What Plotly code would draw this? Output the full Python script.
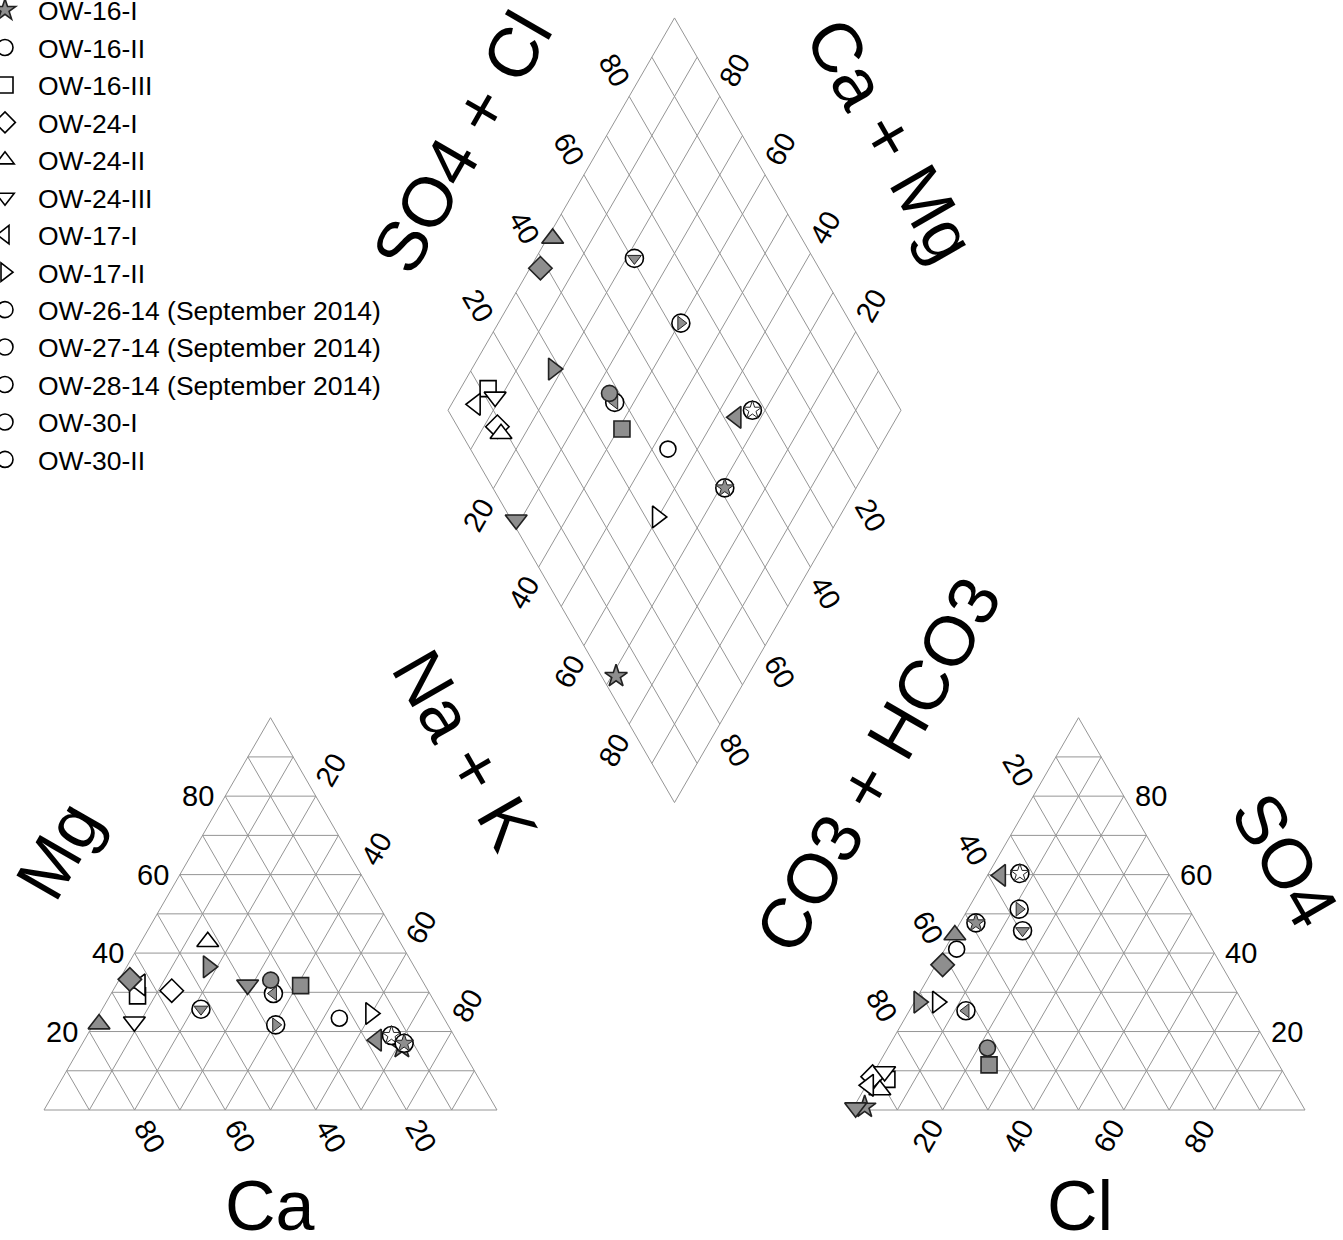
import math
import plotly.graph_objects as go

# ---------------- data (percent of meq) ----------------
SAMPLES = [
    "OW-16-I", "OW-16-II", "OW-16-III", "OW-24-I", "OW-24-II", "OW-24-III",
    "OW-17-I", "OW-17-II",
    "OW-26-14 (September 2014)", "OW-27-14 (September 2014)", "OW-28-14 (September 2014)",
    "OW-30-I", "OW-30-II",
    "gray triangle-up", "gray diamond", "gray triangle-right", "gray circle",
    "gray square", "gray triangle-left", "gray triangle-down",
]
CA = [13.0, 23.1, 64.8, 56.6, 42.4, 68.8, 62.8, 15.6, 38.0, 52.5, 34.5, 13.8, 12.0,
      76.9, 64.4, 45.5, 33.4, 27.5, 17.7, 39.1]
MG = [16.0, 23.4, 29.1, 30.4, 42.9, 22.5, 31.9, 24.6, 21.7, 25.7, 29.7, 19.0, 17.0,
      21.9, 33.3, 36.5, 33.1, 31.7, 17.8, 31.9]
NA_K = [71.0, 53.5, 6.1, 13.0, 14.7, 8.7, 5.3, 59.8, 40.3, 21.8, 35.8, 67.2, 71.0,
        1.2, 2.3, 18.0, 33.5, 40.8, 64.5, 29.0]
CL = [2.4, 2.6, 3.8, 0.3, 3.6, 2.3, 0.5, 5.1, 11.3, 14.8, 12.5, 6.9, 3.5,
      0.4, 1.5, 1.0, 22.0, 24.5, 2.9, 0.5]
SO4 = [0.8, 41.0, 7.8, 8.5, 5.1, 9.8, 6.3, 27.5, 51.2, 45.7, 25.3, 60.3, 47.7,
       44.6, 37.0, 27.5, 15.8, 11.5, 59.8, 0.6]
CO3_HCO3 = [96.8, 56.4, 88.4, 91.2, 91.3, 87.9, 93.2, 67.4, 37.5, 39.5, 62.2, 32.8, 48.8,
            55.0, 61.5, 71.5, 62.2, 64.0, 37.3, 98.9]
IN_LEGEND = [True] * 13 + [False] * 7

TICKS = [20, 40, 60, 80]
GRID_STEPS = list(range(0, 101, 10))

# ---------------- styles ----------------
GRAY = "#8e8e8e"
SYMBOL = ["star", "circle", "square", "diamond", "triangle-up", "triangle-down",
          "triangle-left", "triangle-right", "circle", "circle", "circle", "circle", "circle",
          "triangle-up", "diamond", "triangle-right", "circle", "square", "triangle-left",
          "triangle-down"]
FILL = [GRAY] + ["white"] * 12 + [GRAY] * 7
INNER = {8: ("triangle-right", GRAY), 9: ("triangle-down", GRAY), 10: ("triangle-left", GRAY),
         11: ("star", "white"), 12: ("star", GRAY)}
SIZE = {"star": 17, "circle": 16, "square": 16, "diamond": 18, "triangle-up": 19,
        "triangle-down": 19, "triangle-left": 19, "triangle-right": 19}

# ---------------- geometry ----------------
W, HGT = 1343, 1240
PX = 4.53                 # pixels per percent of triangle side
OX, OY = 44, 1110         # pixel position of the cation triangle's left corner
H = math.sqrt(3) / 2
GAP = 78.37
AN_OFF = 100 + GAP
BX, BY = 100 + GAP / 2, GAP * H


def cation_xy(mg, nak):
    return nak + mg / 2, mg * H


def anion_xy(so4, cl):
    return AN_OFF + cl + so4 / 2, so4 * H


def diamond_xy(cm, sc):
    return BX + (sc - cm) / 2, BY + (cm + sc) * H


fig = go.Figure()

# grid
gx, gy = [], []


def seg(p, q):
    gx.extend([p[0], q[0], None])
    gy.extend([p[1], q[1], None])


for ox in (0, AN_OFF):
    for k in GRID_STEPS[:-1]:
        seg((ox + k / 2, k * H), (ox + 100 - k / 2, k * H))
        seg((ox + k, 0), (ox + k + (100 - k) / 2, (100 - k) * H))
        seg((ox + 100 - k, 0), (ox + (100 - k) / 2, (100 - k) * H))
for k in GRID_STEPS:
    seg(diamond_xy(k, 0), diamond_xy(k, 100))
    seg(diamond_xy(0, k), diamond_xy(100, k))

fig.add_trace(go.Scatter(x=gx, y=gy, mode="lines", line=dict(color="#959595", width=1),
                         hoverinfo="skip", showlegend=False))

# samples
for i in range(len(SAMPLES)):
    pts = [cation_xy(MG[i], NA_K[i]), anion_xy(SO4[i], CL[i]),
           diamond_xy(CA[i] + MG[i], SO4[i] + CL[i])]
    xs = [p[0] for p in pts]
    ys = [p[1] for p in pts]
    sym = SYMBOL[i]
    size = 18 if i in INNER else SIZE[sym]
    lc = "black" if FILL[i] == "white" else "#222222"
    fig.add_trace(go.Scatter(x=xs, y=ys, mode="markers", name=SAMPLES[i], legendgroup=SAMPLES[i],
                             showlegend=IN_LEGEND[i],
                             marker=dict(symbol=sym, size=size, color=FILL[i],
                                         line=dict(color=lc, width=1.6))))
    if i in INNER:
        isym, ifill = INNER[i]
        isize = 14 if isym == "star" else 12
        fig.add_trace(go.Scatter(x=xs, y=ys, mode="markers", name=SAMPLES[i],
                                 legendgroup=SAMPLES[i], showlegend=False,
                                 marker=dict(symbol=isym, size=isize, color=ifill,
                                             line=dict(color="#222222", width=1))))

# ---------------- tick labels ----------------
D = 30 / PX
G = 2.0
TF = dict(family="Liberation Sans, Arial, sans-serif", size=29, color="black")
ann = []


def lab(x, y, text, angle=0, xa="center"):
    ann.append(dict(x=x, y=y, text=text, showarrow=False, textangle=angle,
                    xanchor=xa, yanchor="middle", font=TF))


for t in TICKS:
    s = str(t)
    # cation triangle
    lab(t / 2 - G, t * H, s, 0, "right")                                        # Mg
    lab(100 - t + 0.5 * D, -H * D, s, 60)                                      # Ca
    lab(t + (100 - t) / 2 + 0.5 * D, (100 - t) * H + H * D, s, -60)            # Na + K
    # anion triangle
    lab(AN_OFF + 100 - t / 2 + G, t * H, s, 0, "left")                          # SO4
    lab(AN_OFF + t - 0.5 * D, -H * D, s, -60)                                  # Cl
    lab(AN_OFF + (100 - t) / 2 - 0.5 * D, (100 - t) * H + H * D, s, 60)        # CO3 + HCO3
    # diamond
    x, y = diamond_xy(100, t)
    lab(x - 0.5 * D, y + H * D, s, 60)                                         # SO4 + Cl
    x, y = diamond_xy(t, 100)
    lab(x + 0.5 * D, y + H * D, s, -60)                                        # Ca + Mg
    x, y = diamond_xy(100 - t, 0)
    lab(x - 0.5 * D, y - H * D, s, -60)                                        # Na + K
    x, y = diamond_xy(0, 100 - t)
    lab(x + 0.5 * D, y - H * D, s, 60)                                         # CO3 + HCO3

# ---------------- axis titles ----------------
BF = dict(family="Liberation Sans, Arial, sans-serif", size=70, color="black")
TITLES = [("Mg", 3.3, 57.4, -60), ("Na + K", 92.9, 79.5, 60), ("Ca", 49.9, -21.2, 0),
          ("Cl", 228.7, -21.2, 0), ("CO3 + HCO3", 184.1, 76.2, -60), ("SO4", 273.9, 55.2, 60),
          ("SO4 + Cl", 92.3, 213.7, -60), ("Ca + Mg", 186.8, 214.1, 60)]
for text, x, y, a in TITLES:
    ann.append(dict(x=x, y=y, text=text, showarrow=False, textangle=a,
                    xanchor="center", yanchor="middle", font=BF))

fig.update_layout(
    width=W, height=HGT,
    margin=dict(l=0, r=0, t=0, b=0, pad=0, autoexpand=False),
    paper_bgcolor="white", plot_bgcolor="white",
    xaxis=dict(range=[-OX / PX, (W - OX) / PX], visible=False, fixedrange=True),
    yaxis=dict(range=[(OY - HGT) / PX, OY / PX], visible=False, fixedrange=True),
    annotations=ann,
    legend=dict(x=-28 / W, y=1 + 13.7 / HGT, xanchor="left", yanchor="top",
                bgcolor="rgba(0,0,0,0)", borderwidth=0, itemwidth=56, tracegroupgap=0,
                font=dict(family="Liberation Sans, Arial, sans-serif", size=26.5, color="black")),
    font=dict(family="Liberation Sans, Arial, sans-serif"),
)

fig.write_html("out.html", config={"displayModeBar": False},
               post_script="document.body.style.margin='0';document.body.style.overflow='hidden';")
